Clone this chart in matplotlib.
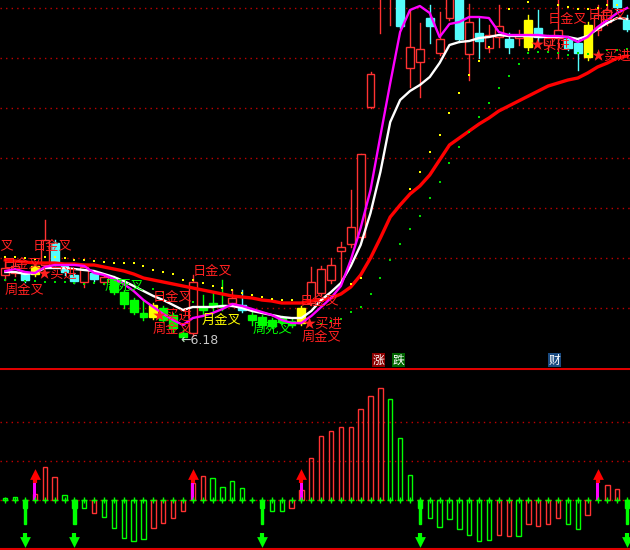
import numpy as np
import matplotlib.pyplot as plt
from matplotlib.patches import Rectangle

plt.rcParams['font.family'] = ['Noto Sans CJK SC', 'DejaVu Sans']

# K-line data (price)
opens = [6.83, 6.85, 6.84, 6.84, 6.93, 7.15, 6.92, 6.83, 6.76, 6.85,
         6.76, 6.80, 6.66, 6.58, 6.45, 6.41, 6.50, 6.43, 6.25, 6.25,
         6.51, 6.55, 6.53, 6.55, 6.53, 6.43, 6.41, 6.38, 6.40, 6.37,
         6.35, 6.55, 6.65, 6.78, 7.07, 7.14, 7.21, 8.51, 9.68, 9.63,
         9.88, 8.90, 8.96, 9.40, 9.05, 9.40, 9.78, 9.04, 9.25, 9.10,
         9.21, 9.19, 9.20, 9.11, 9.30, 9.13, 9.20, 9.19, 9.15, 9.01,
         9.28, 9.36, 9.63, 9.38]
closes = [6.90, 6.92, 6.78, 6.92, 7.18, 6.96, 6.86, 6.77, 6.91, 6.79,
          6.81, 6.66, 6.54, 6.46, 6.41, 6.53, 6.38, 6.30, 6.21, 6.76,
          6.48, 6.52, 6.51, 6.60, 6.48, 6.38, 6.33, 6.32, 6.36, 6.33,
          6.50, 6.76, 6.89, 6.93, 7.11, 7.31, 8.04, 8.84, 9.98, 9.93,
          9.32, 9.11, 9.09, 9.32, 9.19, 9.78, 9.19, 9.36, 9.17, 9.23,
          9.32, 9.11, 9.23, 9.38, 9.21, 9.20, 9.28, 9.10, 9.05, 9.33,
          9.43, 9.48, 9.51, 9.29]
highs = [6.96, 6.96, 6.86, 6.94, 7.38, 7.18, 6.94, 6.85, 6.93, 6.87,
         6.83, 6.82, 6.68, 6.60, 6.58, 6.55, 6.52, 6.45, 6.28, 6.83,
         6.63, 6.65, 6.78, 6.68, 6.68, 6.46, 6.43, 6.40, 6.42, 6.39,
         6.52, 6.91, 6.92, 7.00, 7.16, 7.68, 8.04, 8.86, 10.03, 9.98,
         9.93, 9.48, 9.35, 9.53, 9.46, 9.83, 9.83, 9.54, 9.40, 9.33,
         9.53, 9.25, 9.28, 9.43, 9.48, 9.23, 9.58, 9.22, 9.18, 9.36,
         9.53, 9.58, 9.66, 9.43]
lows = [6.78, 6.82, 6.76, 6.82, 6.90, 6.93, 6.83, 6.75, 6.71, 6.77,
        6.74, 6.64, 6.50, 6.44, 6.38, 6.39, 6.36, 6.26, 6.18, 6.22,
        6.43, 6.45, 6.48, 6.52, 6.46, 6.33, 6.30, 6.30, 6.34, 6.31,
        6.33, 6.53, 6.63, 6.75, 6.78, 7.11, 7.18, 8.50, 9.25, 9.33,
        9.30, 8.71, 8.61, 9.15, 9.03, 9.38, 9.16, 8.78, 9.00, 9.06,
        9.11, 9.05, 9.13, 9.08, 9.13, 9.08, 9.00, 9.08, 8.88, 8.98,
        9.23, 9.33, 9.48, 9.27]
# r = up (hollow red), c = down (cyan), g = down (green), y = signal (yellow)
kinds = "rrcyrcccrc" "rggggygggr" "gggrcggggg" "yrrrrrrrrr" "crrcrrcrcr" "rcrycrrccy" "rrcc"

ma_white = [6.86, 6.86, 6.84, 6.85, 6.90, 6.90, 6.90, 6.89, 6.88, 6.87,
            6.84, 6.81, 6.77, 6.72, 6.67, 6.62, 6.58, 6.53, 6.48, 6.51,
            6.51, 6.51, 6.52, 6.52, 6.50, 6.47, 6.45, 6.43, 6.41, 6.40,
            6.40, 6.47, 6.58, 6.66, 6.75, 6.92, 7.13, 7.45, 7.86, 8.36,
            8.58, 8.67, 8.73, 8.81, 8.95, 9.13, 9.16, 9.17, 9.20, 9.21,
            9.23, 9.22, 9.22, 9.22, 9.21, 9.21, 9.21, 9.21, 9.19, 9.22,
            9.29, 9.35, 9.40, 9.39]
ma_magenta = [6.87, 6.89, 6.86, 6.85, 6.91, 6.93, 6.93, 6.93, 6.92, 6.85,
              6.83, 6.79, 6.74, 6.67, 6.58, 6.51, 6.44, 6.38, 6.33, 6.40,
              6.42, 6.45, 6.49, 6.54, 6.52, 6.49, 6.46, 6.43, 6.38, 6.35,
              6.35, 6.42, 6.51, 6.60, 6.72, 6.98, 7.30, 7.68, 8.22, 8.75,
              9.26, 9.48, 9.52, 9.45, 9.21, 9.34, 9.36, 9.41, 9.41, 9.40,
              9.26, 9.23, 9.23, 9.23, 9.23, 9.22, 9.22, 9.21, 9.16, 9.21,
              9.31, 9.38, 9.45, 9.50]
ma_red = [6.98, 6.97, 6.96, 6.95, 6.95, 6.95, 6.94, 6.94, 6.93, 6.93,
          6.91, 6.89, 6.87, 6.84, 6.80, 6.78, 6.76, 6.74, 6.72, 6.70,
          6.68, 6.66, 6.64, 6.62, 6.61, 6.60, 6.58, 6.57, 6.55, 6.55,
          6.55, 6.57, 6.58, 6.60, 6.64, 6.71, 6.83, 7.00, 7.20, 7.41,
          7.53, 7.64, 7.72, 7.83, 7.98, 8.13, 8.20, 8.27, 8.34, 8.40,
          8.47, 8.52, 8.57, 8.62, 8.67, 8.72, 8.75, 8.78, 8.80, 8.85,
          8.91, 8.95, 9.00, 9.02]

nan = np.nan
dots_yellow = [7.01, 7.01, 7.00, 6.99, 7.01, 7.01, 7.00, 6.98, 6.98, 6.97,
               6.96, 6.95, 6.95, 6.95, 6.92, 6.88, 6.86, 6.84, 6.78, 6.78,
               6.75, 6.72, 6.70, 6.68, 6.65, 6.63, 6.61, 6.59, 6.58, 6.58,
               nan, nan, nan, nan, nan, 6.74, 6.80, nan, nan, nan,
               nan, 7.69, 7.86, 8.06, 8.23, 8.45, 8.65, 8.83, 8.97, 9.11,
               nan, 9.49, nan, 9.56, nan, nan, 9.53, 9.51, 9.49, 9.49,
               9.50, 9.53, 9.53, nan]
dots_green = [6.78, 6.78, 6.77, 6.77, 6.76, 6.76, 6.76, 6.75, 6.74, 6.75,
              6.74, nan, nan, nan, nan, 6.69, 6.66, nan, nan, 6.56,
              nan, nan, nan, nan, nan, nan, nan, nan, nan, nan,
              nan, nan, 6.34, 6.37, 6.39, 6.46, 6.51, 6.64, 6.80, 6.98,
              7.14, 7.29, 7.42, 7.60, 7.76, 7.95, 8.11, 8.26, 8.41, 8.55,
              8.70, 8.82, 8.94, 9.05, 9.06, 9.06, 9.05, 9.03, 9.05, 9.04,
              9.05, 9.08, 9.08, 9.09]

# lower indicator
macd = [0.05, 0.08, -0.60, 0.17, 0.85, 0.59, 0.13, -0.60, -0.19, -0.32,
        -0.42, -0.70, -0.96, -1.04, -0.99, -0.70, -0.57, -0.45, -0.27, 0.44,
        0.62, 0.57, 0.34, 0.49, 0.32, 0.02, -0.60, -0.27, -0.27, -0.19,
        0.27, 1.08, 1.64, 1.77, 1.87, 1.87, 2.33, 2.67, 2.87, 2.59,
        1.59, 0.64, -0.60, -0.45, -0.68, -0.47, -0.73, -0.88, -1.04, -1.01,
        -0.88, -0.91, -0.91, -0.60, -0.65, -0.60, -0.45, -0.60, -0.73, -0.37,
        0.0, 0.38, 0.28, -0.60]
macd_col = "ggGrrrgGgr" "gggggrrrrr" "rggggGGggr" "rrrrrrrrrg" "ggGggggggg" "rrgrrrrggr" "rrrG"
sig_up = [3, 19, 30, 60]
sig_dn = [2, 7, 26, 42, 63]

labels = [("日金叉", "#ff2020", -3.07, 7.12), ("日金叉", "#ff2020", 2.81, 7.12),
          ("日金叉", "#ff2020", -0.23, 6.94), ("★买进", "#ff2020", 3.31, 6.84),
          ("周金叉", "#ff2020", -0.03, 6.68), ("周死叉", "#00ff00", 10.1, 6.72),
          ("日金叉", "#ff2020", 14.96, 6.61), ("★买进", "#ff2020", 14.96, 6.42),
          ("周金叉", "#ff2020", 14.96, 6.29), ("日金叉", "#ff2020", 18.96, 6.87),
          ("月金叉", "#ffff00", 19.93, 6.38), ("周死叉", "#00ff00", 25.1, 6.29),
          ("日金叉", "#ff2020", 29.86, 6.57), ("★买进", "#ff2020", 30.16, 6.34),
          ("周金叉", "#ff2020", 30.06, 6.21), ("日金叉", "#ff2020", 54.98, 9.39),
          ("日金叉", "#ff2020", 59.0, 9.43), ("★买进", "#ff2020", 53.16, 9.13),
          ("★买进", "#ff2020", 59.34, 9.02)]

RED = '#ff3232'
CYAN = '#54fcfc'
GREEN = '#00ff00'
colors = {'r': RED, 'c': CYAN, 'g': GREEN, 'y': '#ffff00'}

fig = plt.figure(figsize=(6.3, 5.5), dpi=100, facecolor='black')
ax = fig.add_axes([0, 0.3309, 1, 0.6691], facecolor='black')
ax2 = fig.add_axes([0, 0, 1, 0.3309], facecolor='black')
x = np.arange(len(opens))

for a in (ax, ax2):
    a.set_xlim(-0.537, 63.29)
    a.set_xticks([])
    a.set_yticks([])
    for s in a.spines.values():
        s.set_visible(False)
ax.set_ylim(5.90, 9.58)
ax2.set_ylim(-1.274, 3.392)

for p in [6.5, 7.0, 7.5, 8.0, 8.5, 9.0, 9.5]:
    ax.axhline(p, color='#c00000', lw=1, dashes=(1, 3), zorder=1)

# candles
for i in range(len(opens)):
    k = kinds[i]
    col = colors[k]
    ax.plot([i, i], [lows[i], highs[i]], color=col, lw=1, zorder=2)
    bot = min(opens[i], closes[i])
    h = max(abs(closes[i] - opens[i]), 0.01)
    if k == 'r':
        rect = Rectangle((i - 0.4, bot), 0.8, h, facecolor='black', edgecolor=col, lw=1, zorder=3)
    else:
        rect = Rectangle((i - 0.4, bot), 0.8, h, facecolor=col, edgecolor=col, lw=1, zorder=3)
    ax.add_patch(rect)

ax.plot(x, ma_red, color='#ff0000', lw=2.4, zorder=4)
ax.plot(x, ma_white, color='white', lw=1.7, zorder=5)
ax.plot(x, ma_magenta, color='#ff00ff', lw=1.7, zorder=6)
ax.scatter(x, dots_yellow, marker='s', s=3, color='#ffff00', lw=0, zorder=6)
ax.scatter(x, dots_green, marker='s', s=3, color='#00dd00', lw=0, zorder=6)

for txt, col, tx, ty in labels:
    ax.text(tx, ty, txt, color=col, fontsize=9.5, ha='left', va='center', zorder=7)
ax.text(17.7, 6.18, "←6.18", color='#c8c8c8', fontsize=9, ha='left', va='center',
        family=['DejaVu Sans'], zorder=7)

for txt, bg, tx in [("涨", '#8b0000', 37.8), ("跌", '#006400', 39.8), ("财", '#1a4a80', 55.6)]:
    ax.text(tx, 5.98, txt, color='white', fontsize=8.5, ha='center', va='center',
            bbox=dict(boxstyle='square,pad=0.05', facecolor=bg, edgecolor='none'), zorder=8)

# lower panel
for lv in [0, 1, 2]:
    ax2.axhline(lv, color='#c00000', lw=1, dashes=(1, 3), zorder=1)
ax2.axhline(3.37, color='#e00000', lw=1.5, zorder=2)
ax2.axhline(-1.25, color='#e00000', lw=1.5, zorder=2)

for i, v in enumerate(macd):
    c = macd_col[i]
    if c == 'G':
        ax2.add_patch(Rectangle((i - 0.22, v * 0.35), 0.44, -v * 0.35, facecolor=GREEN, edgecolor=GREEN, lw=1, zorder=3))
        ax2.add_patch(Rectangle((i - 0.12, v), 0.24, -v, facecolor=GREEN, edgecolor=GREEN, lw=1, zorder=3))
    elif v != 0:
        col = RED if c == 'r' else GREEN
        ax2.add_patch(Rectangle((i - 0.22, 0), 0.44, v, facecolor='none', edgecolor=col, lw=1, zorder=3))

for i in sig_up:
    ax2.add_patch(Rectangle((i - 0.16, 0), 0.32, 0.44, facecolor='#ff00ff', edgecolor='none', zorder=4))
    ax2.plot([i, i], [0.44, 0.64], color='#ff0000', lw=3, zorder=4, solid_capstyle='butt')
    ax2.scatter([i], [0.68], marker='^', s=60, color='#ff0000', lw=0, zorder=5)
for i in sig_dn:
    ax2.plot([i, i], [-0.85, -1.0], color=GREEN, lw=3, zorder=4, solid_capstyle='butt')
    ax2.scatter([i], [-1.07], marker='v', s=60, color=GREEN, lw=0, zorder=5)

ax2.scatter(x, np.zeros(len(x)), marker='+', s=14, color=GREEN, lw=1, zorder=6)

fig.savefig('out.png', dpi=100, facecolor='black')
